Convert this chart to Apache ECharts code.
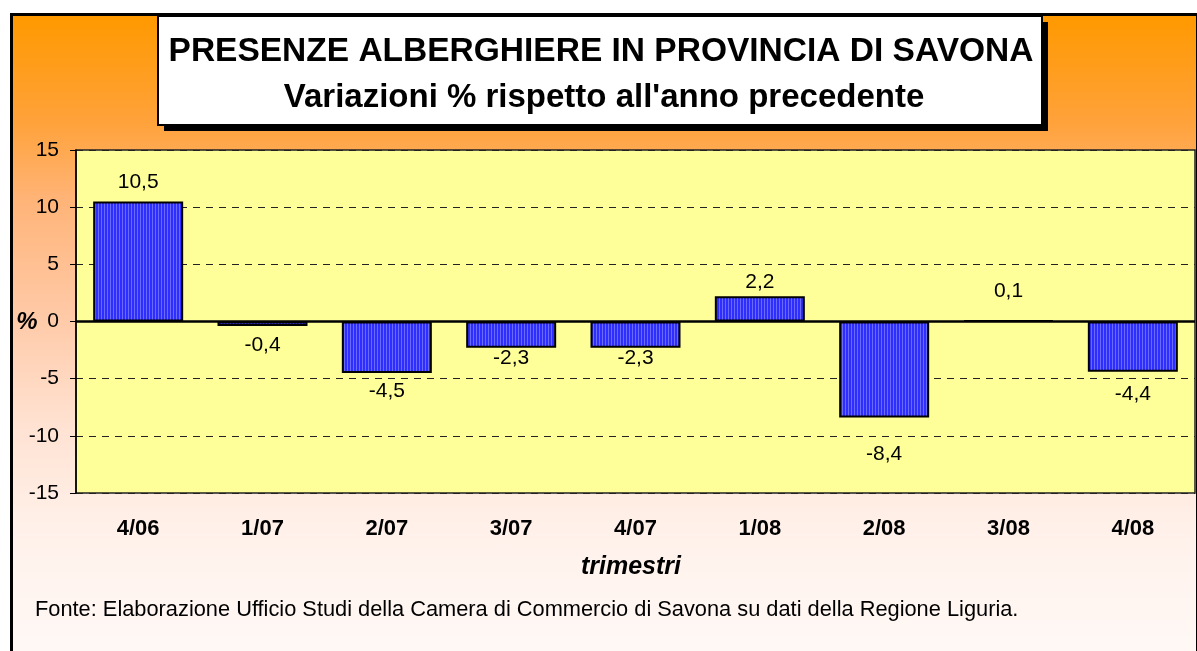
<!DOCTYPE html>
<html>
<head>
<meta charset="utf-8">
<script src="https://cdn.jsdelivr.net/npm/echarts@6/dist/echarts.min.js"></script>
<style>
html,body{margin:0;padding:0;background:#fff;overflow:hidden;}
#frame{position:absolute;left:10px;top:13px;width:1183px;height:660px;border:3px solid #000;
background:linear-gradient(to bottom,#FF9900 0%,#FFA23A 16%,#FFB478 28%,#FFC9A6 45%,#FFE2D2 62%,#FFF1EA 78%,#FFFAF8 100%);}
#chart{position:absolute;left:0;top:0;width:1197px;height:651px;}
</style>
</head>
<body>
<div id="frame"></div>
<div id="chart"></div>
<script>
// ---- data ----
var categories = ['4/06','1/07','2/07','3/07','4/07','1/08','2/08','3/08','4/08'];
var values = [10.5, -0.4, -4.5, -2.3, -2.3, 2.2, -8.4, 0.1, -4.4];
var yTicks = [-15, -10, -5, 0, 5, 10, 15];
var titleLine1 = 'PRESENZE ALBERGHIERE IN PROVINCIA DI SAVONA';
var titleLine2 = "Variazioni % rispetto all'anno precedente";
var xAxisTitle = 'trimestri';
var yAxisTitle = '%';
var sourceNote = 'Fonte: Elaborazione Ufficio Studi della Camera di Commercio di Savona su dati della Regione Liguria.';

// ---- styling ----
var labelDist = [9, 9, 8, 0, 0, 4, 26, 18, 12];
var FONT = '"Liberation Sans", Arial, sans-serif';

var pc = document.createElement('canvas');
pc.width = 3; pc.height = 8;
var g = pc.getContext('2d');
g.fillStyle = '#2E2EFF'; g.fillRect(0,0,3,8);
g.fillStyle = '#6A6AFF'; g.fillRect(2,0,1,8);

var chart = echarts.init(document.getElementById('chart'), null, {renderer:'canvas'});

var seriesData = values.map(function(v, i){
  return {
    value: v,
    label: { position: v >= 0 ? 'top' : 'bottom', distance: labelDist[i] }
  };
});

var option = {
  backgroundColor: 'transparent',
  animation: false,
  grid: {
    left: 76, right: 2, top: 150, bottom: 158,
    show: true, backgroundColor: '#FFFF99', borderColor: '#222', borderWidth: 1.5
  },
  xAxis: {
    type: 'category',
    data: categories,
    axisLine: { show: false, onZero: false },
    axisTick: { show: false },
    axisLabel: { color: '#000', fontFamily: FONT, fontWeight: 'bold', fontSize: 22, margin: 25 },
    splitLine: { show: false }
  },
  yAxis: {
    type: 'value',
    min: yTicks[0], max: yTicks[yTicks.length-1], interval: 5,
    axisLine: { show: true, lineStyle: { color: '#000', width: 1.5 } },
    axisTick: { show: true, inside: false, length: 6, lineStyle: { color: '#000', width: 1 } },
    axisLabel: { color: '#000', fontFamily: FONT, fontSize: 21, margin: 17 },
    splitLine: { show: true, lineStyle: { color: '#222', type: [7, 6], width: 1 } }
  },
  series: [{
    type: 'bar',
    data: seriesData,
    barWidth: 90,
    itemStyle: {
      color: { image: pc, repeat: 'repeat' },
      borderColor: '#000', borderWidth: 2
    },
    label: {
      show: true, color: '#000', fontFamily: FONT, fontSize: 21,
      formatter: function(p){ return String(p.value).replace('.', ','); }
    },
    markLine: {
      silent: true, symbol: 'none', label: { show: false },
      lineStyle: { color: '#000', type: 'solid', width: 2.5 },
      data: [{ yAxis: 0 }]
    }
  }],
  graphic: [
    { type: 'rect', z: 100, shape: { x: 164, y: 22, width: 884, height: 109 }, style: { fill: '#000' } },
    { type: 'rect', z: 101, shape: { x: 158, y: 16, width: 884, height: 109 }, style: { fill: '#fff', stroke: '#000', lineWidth: 2 } },
    { type: 'text', z: 102, x: 601, y: 52, style: { text: titleLine1, font: 'bold 33.5px ' + FONT, fill: '#000', align: 'center', verticalAlign: 'middle' } },
    { type: 'text', z: 102, x: 604, y: 98, style: { text: titleLine2, font: 'bold 33px ' + FONT, fill: '#000', align: 'center', verticalAlign: 'middle' } },
    { type: 'text', z: 102, x: 631, y: 567, style: { text: xAxisTitle, font: 'italic bold 25px ' + FONT, fill: '#000', align: 'center', verticalAlign: 'middle' } },
    { type: 'text', z: 102, x: 27, y: 322, style: { text: yAxisTitle, font: 'italic bold 24px ' + FONT, fill: '#000', align: 'center', verticalAlign: 'middle' } },
    { type: 'text', z: 102, x: 35, y: 610, style: { text: sourceNote, font: '21.8px ' + FONT, fill: '#000', align: 'left', verticalAlign: 'middle' } }
  ]
};
chart.setOption(option);
</script>
</body>
</html>
